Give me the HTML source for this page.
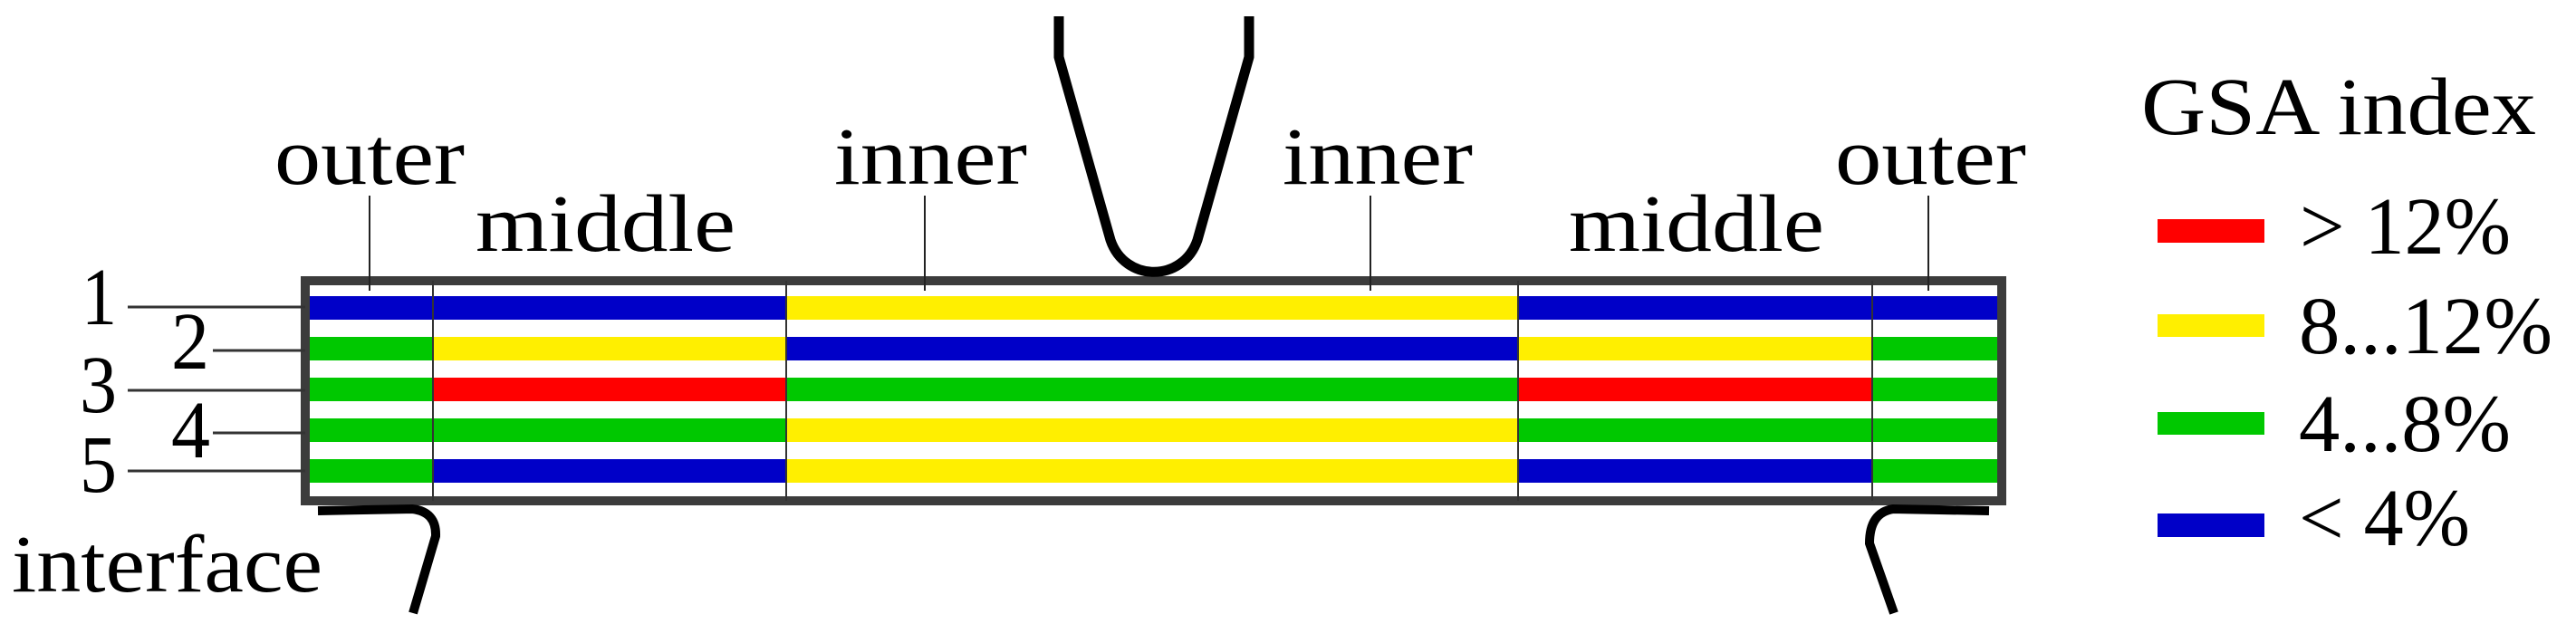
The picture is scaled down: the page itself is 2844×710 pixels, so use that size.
<!DOCTYPE html>
<html><head><meta charset="utf-8"><style>
html,body{margin:0;padding:0;background:#fff;}
svg{display:block;}
text{font-family:"Liberation Serif",serif;font-size:90px;fill:#000;}
</style></head><body>
<svg width="2844" height="710" viewBox="0 0 2844 710" xmlns="http://www.w3.org/2000/svg">
<rect width="2844" height="710" fill="#fff"/>
<!-- box -->
<rect x="337" y="310" width="1873" height="243" fill="#fff" stroke="#3c3c3c" stroke-width="10"/>
<!-- stripes: columns -->
<g>
<!-- outer left 342-478 -->
<rect x="342" y="327" width="136" height="26" fill="#0000c8"/>
<rect x="342" y="372" width="136" height="26" fill="#00c800"/>
<rect x="342" y="417" width="136" height="26" fill="#00c800"/>
<rect x="342" y="462" width="136" height="26" fill="#00c800"/>
<rect x="342" y="507" width="136" height="26" fill="#00c800"/>
<!-- middle left 478-868 -->
<rect x="478" y="327" width="390" height="26" fill="#0000c8"/>
<rect x="478" y="372" width="390" height="26" fill="#ffef00"/>
<rect x="478" y="417" width="390" height="26" fill="#ff0000"/>
<rect x="478" y="462" width="390" height="26" fill="#00c800"/>
<rect x="478" y="507" width="390" height="26" fill="#0000c8"/>
<!-- inner 868-1676 -->
<rect x="868" y="327" width="808" height="26" fill="#ffef00"/>
<rect x="868" y="372" width="808" height="26" fill="#0000c8"/>
<rect x="868" y="417" width="808" height="26" fill="#00c800"/>
<rect x="868" y="462" width="808" height="26" fill="#ffef00"/>
<rect x="868" y="507" width="808" height="26" fill="#ffef00"/>
<!-- middle right 1676-2067 -->
<rect x="1676" y="327" width="391" height="26" fill="#0000c8"/>
<rect x="1676" y="372" width="391" height="26" fill="#ffef00"/>
<rect x="1676" y="417" width="391" height="26" fill="#ff0000"/>
<rect x="1676" y="462" width="391" height="26" fill="#00c800"/>
<rect x="1676" y="507" width="391" height="26" fill="#0000c8"/>
<!-- outer right 2067-2205 -->
<rect x="2067" y="327" width="138" height="26" fill="#0000c8"/>
<rect x="2067" y="372" width="138" height="26" fill="#00c800"/>
<rect x="2067" y="417" width="138" height="26" fill="#00c800"/>
<rect x="2067" y="462" width="138" height="26" fill="#00c800"/>
<rect x="2067" y="507" width="138" height="26" fill="#00c800"/>
</g>
<!-- dividers -->
<g stroke="#333" stroke-width="2">
<line x1="478" y1="310" x2="478" y2="553"/>
<line x1="868" y1="310" x2="868" y2="553"/>
<line x1="1676" y1="310" x2="1676" y2="553"/>
<line x1="2067" y1="310" x2="2067" y2="553"/>
</g>
<!-- label leaders -->
<g stroke="#222" stroke-width="2">
<line x1="408" y1="216" x2="408" y2="321"/>
<line x1="1021" y1="216" x2="1021" y2="321"/>
<line x1="1513" y1="216" x2="1513" y2="321"/>
<line x1="2129" y1="216" x2="2129" y2="321"/>
</g>
<g stroke="#333" stroke-width="3">
<line x1="141" y1="339" x2="337" y2="339"/>
<line x1="235" y1="387" x2="337" y2="387"/>
<line x1="141" y1="431" x2="337" y2="431"/>
<line x1="235" y1="478" x2="337" y2="478"/>
<line x1="141" y1="520" x2="337" y2="520"/>
</g>
<!-- indenter -->
<path d="M1169,18 L1169,63 L1226,265 C1242,312 1306,312 1322,265 L1379,63 L1379,18" fill="none" stroke="#000" stroke-width="11" stroke-linejoin="round"/>
<!-- supports -->
<path d="M351,564 L455,562 Q482,565 481,592 L456,677" fill="none" stroke="#000" stroke-width="10"/>
<path d="M2196,564 L2090,562 Q2064,566 2064,600 L2091,677" fill="none" stroke="#000" stroke-width="10"/>
<!-- labels -->
<text x="303" y="203" textLength="210" lengthAdjust="spacingAndGlyphs">outer</text>
<text x="525" y="277" textLength="287" lengthAdjust="spacingAndGlyphs">middle</text>
<text x="921" y="203" textLength="213" lengthAdjust="spacingAndGlyphs">inner</text>
<text x="1416" y="203" textLength="210" lengthAdjust="spacingAndGlyphs">inner</text>
<text x="1732" y="277" textLength="282" lengthAdjust="spacingAndGlyphs">middle</text>
<text x="2026" y="203" textLength="211" lengthAdjust="spacingAndGlyphs">outer</text>
<text x="90" y="358" textLength="39" lengthAdjust="spacingAndGlyphs">1</text>
<text x="189" y="407" textLength="42" lengthAdjust="spacingAndGlyphs">2</text>
<text x="88" y="455" textLength="41" lengthAdjust="spacingAndGlyphs">3</text>
<text x="189" y="505" textLength="43" lengthAdjust="spacingAndGlyphs">4</text>
<text x="88" y="543" textLength="41" lengthAdjust="spacingAndGlyphs">5</text>
<text x="13" y="653" textLength="343" lengthAdjust="spacingAndGlyphs">interface</text>
<!-- legend -->
<text x="2364" y="148" textLength="436" lengthAdjust="spacingAndGlyphs">GSA index</text>
<rect x="2382" y="242" width="118" height="26" fill="#ff0000"/>
<rect x="2382" y="347" width="118" height="25" fill="#ffef00"/>
<rect x="2382" y="455" width="118" height="25" fill="#00c800"/>
<rect x="2382" y="567" width="118" height="26" fill="#0000c8"/>
<text x="2539" y="280" textLength="233" lengthAdjust="spacingAndGlyphs">&gt; 12%</text>
<text x="2538" y="390" textLength="280" lengthAdjust="spacingAndGlyphs">8...12%</text>
<text x="2538" y="498" textLength="234" lengthAdjust="spacingAndGlyphs">4...8%</text>
<text x="2538" y="602" textLength="189" lengthAdjust="spacingAndGlyphs">&lt; 4%</text>
</svg>
</body></html>
